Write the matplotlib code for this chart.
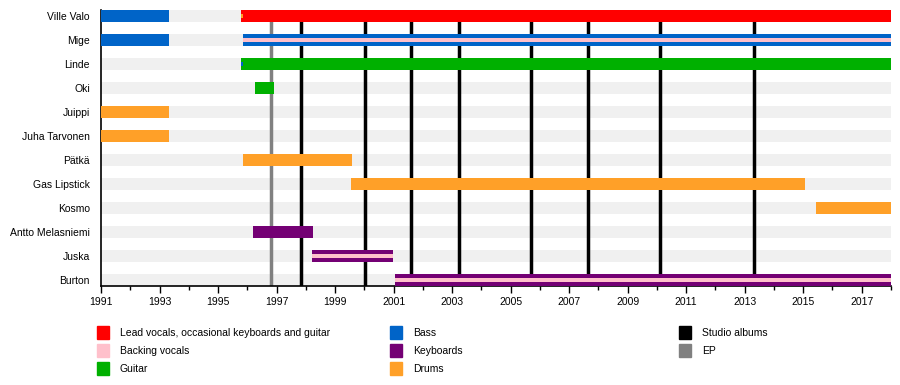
import matplotlib
matplotlib.use("Agg")
import matplotlib.pyplot as plt
from matplotlib.patches import Rectangle

plt.rcParams["font.family"] = ["Liberation Sans", "DejaVu Sans"]

# == 데이터 ==
members = ["Ville Valo", "Mige", "Linde", "Oki", "Juippi", "Juha Tarvonen",
           "Pätkä", "Gas Lipstick", "Kosmo", "Antto Melasniemi", "Juska", "Burton"]

role_colors = {
    "Lead vocals, occasional keyboards and guitar": "#ff0000",
    "Backing vocals": "#ffc0cb",
    "Guitar": "#00b000",
    "Bass": "#0064c8",
    "Keyboards": "#740074",
    "Drums": "#ffa028",
}

# (member, role, start, end, stripe)  stripe = thin bar in the middle
periods = [
    ("Ville Valo", "Bass", 1991.0, 1993.32, False),
    ("Ville Valo", "Lead vocals, occasional keyboards and guitar", 1995.78, 2018.0, False),
    ("Ville Valo", "Drums", 1995.78, 1995.86, True),
    ("Mige", "Bass", 1991.0, 1993.32, False),
    ("Mige", "Bass", 1995.85, 2018.0, False),
    ("Mige", "Backing vocals", 1995.85, 2018.0, True),
    ("Linde", "Guitar", 1995.78, 2018.0, False),
    ("Linde", "Bass", 1995.78, 1995.86, True),
    ("Oki", "Guitar", 1996.26, 1996.91, False),
    ("Juippi", "Drums", 1991.0, 1993.32, False),
    ("Juha Tarvonen", "Drums", 1991.0, 1993.32, False),
    ("Pätkä", "Drums", 1995.85, 1999.58, False),
    ("Gas Lipstick", "Drums", 1999.56, 2015.05, False),
    ("Kosmo", "Drums", 2015.43, 2018.0, False),
    ("Antto Melasniemi", "Keyboards", 1996.19, 1998.24, False),
    ("Juska", "Keyboards", 1998.21, 2000.98, False),
    ("Juska", "Backing vocals", 1998.21, 2000.98, True),
    ("Burton", "Keyboards", 2001.05, 2018.0, False),
    ("Burton", "Backing vocals", 2001.05, 2018.0, True),
]

studio_albums = [1997.83, 2000.02, 2001.59, 2003.24, 2005.69, 2007.64, 2010.10, 2013.31]
ep_releases = [1996.80]

start_year, end_year = 1991, 2018

fig = plt.figure(figsize=(9, 3.85), dpi=100)
ax = fig.add_axes([101 / 900, 1 - 286 / 385, 790 / 900, 276 / 385])

bar_h = 0.5
for i, name in enumerate(members):
    ax.barh(i, end_year - start_year, left=start_year, height=bar_h,
            color="#f0f0f0", zorder=1)

for x in studio_albums:
    ax.axvline(x, color="black", lw=2.5, zorder=2)
for x in ep_releases:
    ax.axvline(x, color="#808080", lw=2.5, zorder=2)

for name, role, s, e, stripe in periods:
    i = members.index(name)
    h = bar_h * 0.3 if stripe else bar_h
    ax.barh(i, e - s, left=s, height=h, color=role_colors[role],
            zorder=4 if stripe else 3)

ax.set_xlim(start_year, end_year)
ax.set_ylim(len(members) - 1 + 0.25, -0.25)
ax.set_yticks(range(len(members)))
ax.set_yticklabels(members, fontsize=7.5)
ax.tick_params(axis="y", length=0, pad=8)
ax.set_xticks(range(start_year, end_year, 2))
ax.set_xticks(range(start_year, end_year + 1), minor=True)
ax.tick_params(axis="x", labelsize=7.5, length=5, width=1, direction="out", pad=3)
ax.tick_params(axis="x", which="minor", length=3, width=1)
for side in ["top", "right"]:
    ax.spines[side].set_visible(False)
ax.spines["left"].set_linewidth(1.2)
ax.spines["bottom"].set_linewidth(1.2)

# == 범례 ==
legend_items = [
    ("Lead vocals, occasional keyboards and guitar", "#ff0000"),
    ("Backing vocals", "#ffc0cb"),
    ("Guitar", "#00b000"),
    ("Bass", "#0064c8"),
    ("Keyboards", "#740074"),
    ("Drums", "#ffa028"),
    ("Studio albums", "black"),
    ("EP", "#808080"),
]
col_x = [97, 390, 679]
row_y = [333, 351, 369]
for k, (label, color) in enumerate(legend_items):
    cx = col_x[k // 3]
    cy = row_y[k % 3]
    fig.add_artist(Rectangle((cx / 900, 1 - (cy + 6) / 385), 12 / 900, 13 / 385,
                             transform=fig.transFigure, color=color))
    fig.text((cx + 23) / 900, 1 - cy / 385, label, fontsize=7.5, va="center", ha="left")

fig.savefig("out.png", dpi=100)
